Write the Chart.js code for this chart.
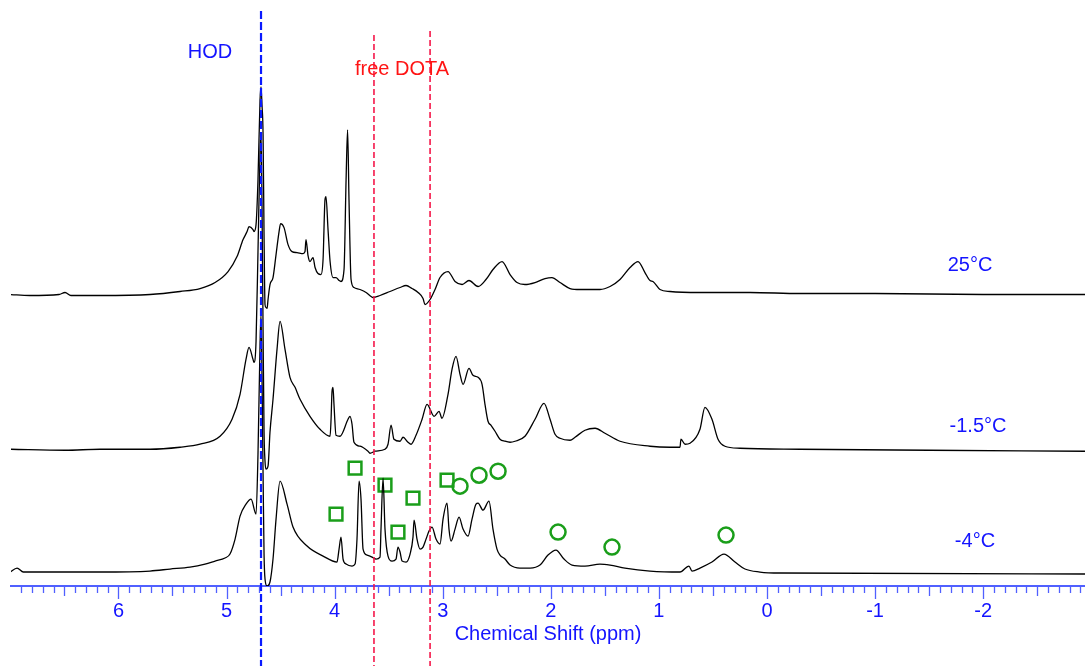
<!DOCTYPE html>
<html>
<head>
<meta charset="utf-8">
<script src="https://cdn.jsdelivr.net/npm/chart.js@4"></script>
<style>
  html, body { margin: 0; padding: 0; background: #fff; }
  #wrap { width: 1085px; height: 666px; }
</style>
</head>
<body>
<div id="wrap"><canvas id="nmr" width="1085" height="666"></canvas></div>
<script>
// chemical shift (ppm) and intensity (a.u., above each trace's own baseline)
var shift25 = [7.003, 6.820, 6.55, 6.494, 6.44, 6.170, 5.708, 5.430, 5.245, 5.106, 4.986, 4.903, 4.847, 4.810, 4.792, 4.755, 4.746, 4.727, 4.709, 4.690, 4.681, 4.672, 4.662, 4.653, 4.644, 4.635, 4.625, 4.616, 4.598, 4.570, 4.542, 4.514, 4.500, 4.468, 4.431, 4.394, 4.348, 4.292, 4.274, 4.265, 4.246, 4.228, 4.200, 4.181, 4.154, 4.126, 4.107, 4.089, 4.080, 4.061, 4.042, 4.015, 3.987, 3.959, 3.941, 3.913, 3.894, 3.880, 3.867, 3.848, 3.821, 3.765, 3.709, 3.663, 3.645, 3.580, 3.488, 3.395, 3.339, 3.284, 3.228, 3.182, 3.164, 3.117, 3.071, 3.025, 2.951, 2.886, 2.821, 2.757, 2.673, 2.600, 2.535, 2.451, 2.377, 2.313, 2.239, 2.146, 2.054, 1.989, 1.915, 1.822, 1.730, 1.545, 1.452, 1.360, 1.267, 1.193, 1.129, 1.082, 1.055, 0.990, 0.897, 0.620, 0.157, -0.305, -1.0, -2.0, -2.942];
var inten25 = [0, -1, 0, 2, -1, -1, 0, 3, 6, 12, 23, 38, 55, 63, 68, 65, 63, 70, 115, 195, 208, 190, 160, 60, -10, -13, -14, -5, 10, 17, 40, 63, 71, 67, 50, 43, 42, 41, 43, 55, 39, 33, 37, 27, 21, 20, 35, 95, 98, 65, 33, 17, 17, 14, 13, 25, 115, 165, 95, 15, 7, 5, 2, -2, -3, -1, 3, 7, 9, 6, 2, -4, -10, -5, 5, 17, 23, 13, 10, 14, 8, 15, 25, 33, 20, 12, 10, 12, 16, 17, 12, 6, 5, 5, 8, 15, 27, 33, 22, 14, 13, 5, 3, 2, 2, 1, 1, 0, 0];

var shiftM15 = [7.003, 6.494, 6.170, 5.708, 5.430, 5.245, 5.060, 4.949, 4.875, 4.820, 4.792, 4.755, 4.746, 4.727, 4.709, 4.690, 4.681, 4.672, 4.662, 4.653, 4.644, 4.635, 4.616, 4.598, 4.570, 4.533, 4.505, 4.459, 4.413, 4.366, 4.320, 4.228, 4.135, 4.042, 4.033, 4.024, 4.015, 4.006, 3.987, 3.950, 3.876, 3.858, 3.839, 3.821, 3.765, 3.691, 3.673, 3.626, 3.534, 3.506, 3.478, 3.451, 3.395, 3.367, 3.321, 3.293, 3.247, 3.191, 3.145, 3.080, 3.034, 3.007, 2.951, 2.914, 2.877, 2.840, 2.812, 2.757, 2.720, 2.673, 2.636, 2.609, 2.581, 2.553, 2.516, 2.470, 2.424, 2.377, 2.331, 2.239, 2.146, 2.063, 2.007, 1.961, 1.915, 1.822, 1.776, 1.684, 1.591, 1.499, 1.360, 1.082, 0.897, 0.805, 0.796, 0.758, 0.712, 0.620, 0.574, 0.509, 0.453, 0.389, 0.250, -0.305, -1.5, -2.942];
var intenM15 = [2, 1, 2, 2, 4, 7, 15, 32, 57, 92, 104, 92, 89, 110, 200, 300, 318, 250, 120, 20, -10, -18, -15, 19, 52, 102, 130, 102, 74, 64, 52, 35, 22, 15, 32, 60, 64, 47, 16, 15, 32, 35, 27, 9, 5, 0, -2, 0, 2, 7, 26, 12, 10, 14, 9, 7, 16, 32, 47, 35, 40, 33, 57, 82, 95, 77, 67, 83, 76, 74, 67, 47, 30, 26, 20, 12, 10, 9, 10, 15, 32, 48, 32, 17, 13, 11, 14, 21, 23, 18, 10, 5, 4, 4, 12, 7, 8, 22, 44, 32, 12, 5, 3, 2, 1, 0];

var shiftM4 = [7.003, 6.938, 6.880, 6.820, 6.170, 5.708, 5.523, 5.338, 5.199, 5.106, 5.014, 4.968, 4.921, 4.875, 4.820, 4.773, 4.727, 4.709, 4.690, 4.681, 4.672, 4.662, 4.653, 4.644, 4.625, 4.598, 4.570, 4.542, 4.505, 4.440, 4.385, 4.255, 4.107, 3.978, 3.959, 3.941, 3.922, 3.894, 3.839, 3.811, 3.793, 3.774, 3.756, 3.737, 3.700, 3.654, 3.617, 3.580, 3.571, 3.552, 3.534, 3.506, 3.469, 3.432, 3.414, 3.395, 3.376, 3.339, 3.302, 3.275, 3.265, 3.238, 3.210, 3.182, 3.154, 3.127, 3.099, 3.062, 3.025, 2.997, 2.960, 2.942, 2.923, 2.886, 2.849, 2.812, 2.766, 2.729, 2.692, 2.673, 2.627, 2.572, 2.535, 2.498, 2.470, 2.424, 2.377, 2.285, 2.192, 2.100, 2.026, 1.952, 1.878, 1.804, 1.684, 1.545, 1.452, 1.314, 1.082, 0.805, 0.722, 0.694, 0.620, 0.509, 0.398, 0.296, 0.204, 0.065, -0.120, -2.942];
var intenM4 = [2, 6, 2, 2, 2, 3, 5, 7, 10, 13, 16, 20, 35, 58, 70, 75, 60, 120, 230, 260, 200, 100, 20, -5, -12, -8, 15, 55, 93, 70, 47, 28, 18, 12, 25, 37, 15, 10, 8, 10, 35, 93, 75, 25, 19, 17, 15, 17, 45, 96, 45, 18, 13, 15, 27, 22, 13, 12, 20, 37, 54, 35, 25, 27, 35, 43, 47, 35, 30, 55, 71, 45, 33, 45, 57, 45, 38, 55, 70, 71, 64, 73, 45, 25, 19, 15, 9, 6, 6, 9, 19, 24, 15, 9, 8, 10, 9, 6, 3, 2, 8, 3, 6, 12, 20, 12, 5, 2, 1, 0];

var traceNames = ['25°C', '-1.5°C', '-4°C'];
var traceOffsets = [292, 135, 12];   // vertical stacking of the three spectra

// assignment markers on the -4°C spectrum
var squareShift = [3.987, 3.811, 3.534, 3.414, 3.275, 2.960];
var squareInten = [60, 106, 89, 42, 76, 94];
var circleShift = [2.840, 2.664, 2.488, 1.933, 1.434, 0.379];
var circleInten = [88, 99, 103, 42, 27, 39];

var hodShift = 4.681;
var dotaShifts = [3.636, 3.117];
var axisTicks = [-2, -1, 0, 1, 2, 3, 4, 5, 6];

var BLUE = '#1414ff';
var AXIS_BLUE = '#5060ff';
var GREEN = '#1a9e1a';
var FONT = "'Liberation Sans', Arial, sans-serif";

function points(xs, ys, off) {
    var out = [];
    for (let i = 0; i < xs.length; i++) {
        out.push({x: xs[i], y: ys[i] + off});
    }
    return out;
}

var spectra = [[shift25, inten25], [shiftM15, intenM15], [shiftM4, intenM4]];
var datasets = spectra.map(function(s, i) {
    return {
        type: 'line',
        label: traceNames[i],
        data: points(s[0], s[1], traceOffsets[i]),
        borderColor: '#000',
        borderWidth: 1.3,
        pointRadius: 0,
        fill: false,
        cubicInterpolationMode: 'monotone'
    };
});
datasets.push({
    type: 'scatter', label: 'squares',
    data: points(squareShift, squareInten, traceOffsets[2]),
    pointStyle: 'rect', pointRadius: 9, borderWidth: 2.5,
    borderColor: GREEN, backgroundColor: 'rgba(0,0,0,0)'
});
datasets.push({
    type: 'scatter', label: 'circles',
    data: points(circleShift, circleInten, traceOffsets[2]),
    pointStyle: 'circle', pointRadius: 7.5, borderWidth: 2.5,
    borderColor: GREEN, backgroundColor: 'rgba(0,0,0,0)'
});

// text labels: [text, ppm, height, colour]
var notes = [
    ['HOD', 5.153, 534, BLUE],
    ['free DOTA', 3.376, 517, '#ff1414'],
    [traceNames[0], -1.878, traceOffsets[0] + 29, BLUE],
    [traceNames[1], -1.952, traceOffsets[1] + 25, BLUE],
    [traceNames[2], -1.924, traceOffsets[2] + 33, BLUE]
];

var extras = {
    id: 'extras',
    afterDatasetsDraw: function(chart) {
        var ctx = chart.ctx, x = chart.scales.x, y = chart.scales.y;
        var bottom = chart.chartArea.bottom;
        ctx.save();
        // minor / half / major ticks under the axis
        ctx.strokeStyle = AXIS_BLUE;
        ctx.lineWidth = 1.3;
        for (let k = -29; k <= 69; k++) {
            var px = Math.round(x.getPixelForValue(k / 10)) + 0.5;
            var len = (k % 10 === 0) ? 13 : (k % 5 === 0 ? 10 : 7);
            ctx.beginPath();
            ctx.moveTo(px, bottom);
            ctx.lineTo(px, bottom + len);
            ctx.stroke();
        }
        // reference lines
        ctx.setLineDash([8, 3]);
        ctx.strokeStyle = '#0a1aff';
        ctx.lineWidth = 2.2;
        var hx = x.getPixelForValue(hodShift);
        ctx.beginPath();
        ctx.moveTo(hx, 11);
        ctx.lineTo(hx, chart.height);
        ctx.stroke();
        ctx.setLineDash([6, 3]);
        ctx.strokeStyle = '#f5174a';
        ctx.lineWidth = 1.6;
        dotaShifts.forEach(function(v, i) {
            var dx = x.getPixelForValue(v);
            ctx.beginPath();
            ctx.moveTo(dx, i === 0 ? 35 : 31);
            ctx.lineTo(dx, chart.height);
            ctx.stroke();
        });
        ctx.setLineDash([]);
        // labels
        ctx.font = '20px ' + FONT;
        ctx.textAlign = 'center';
        ctx.textBaseline = 'middle';
        notes.forEach(function(n) {
            ctx.fillStyle = n[3];
            ctx.fillText(n[0], x.getPixelForValue(n[1]), y.getPixelForValue(n[2]));
        });
        ctx.restore();
    }
};

var nmrChart = new Chart(document.getElementById('nmr'), {
    data: { datasets: datasets },
    options: {
        responsive: false,
        animation: false,
        devicePixelRatio: 1,
        layout: { autoPadding: false, padding: { left: 11, right: 0, top: 0, bottom: 0 } },
        plugins: { legend: { display: false }, tooltip: { enabled: false } },
        scales: {
            x: {
                type: 'linear',
                reverse: true,
                min: -2.942,
                max: 6.994,
                afterBuildTicks: function(scale) {
                    scale.ticks = axisTicks.map(function(v) { return {value: v}; });
                },
                afterFit: function(scale) {
                    scale.paddingLeft = 0;
                    scale.paddingRight = 0;
                },
                ticks: { color: BLUE, font: { family: FONT, size: 20 }, padding: 13, maxRotation: 0, autoSkip: false },
                grid: { display: false, drawTicks: false },
                border: { display: true, color: AXIS_BLUE, width: 2 },
                title: {
                    display: true, text: 'Chemical Shift (ppm)', color: BLUE,
                    font: { family: FONT, size: 20 }, padding: { top: -14, bottom: 20 }
                }
            },
            y: { display: false, min: 0, max: 587 }
        }
    },
    plugins: [extras]
});
</script>
</body>
</html>
